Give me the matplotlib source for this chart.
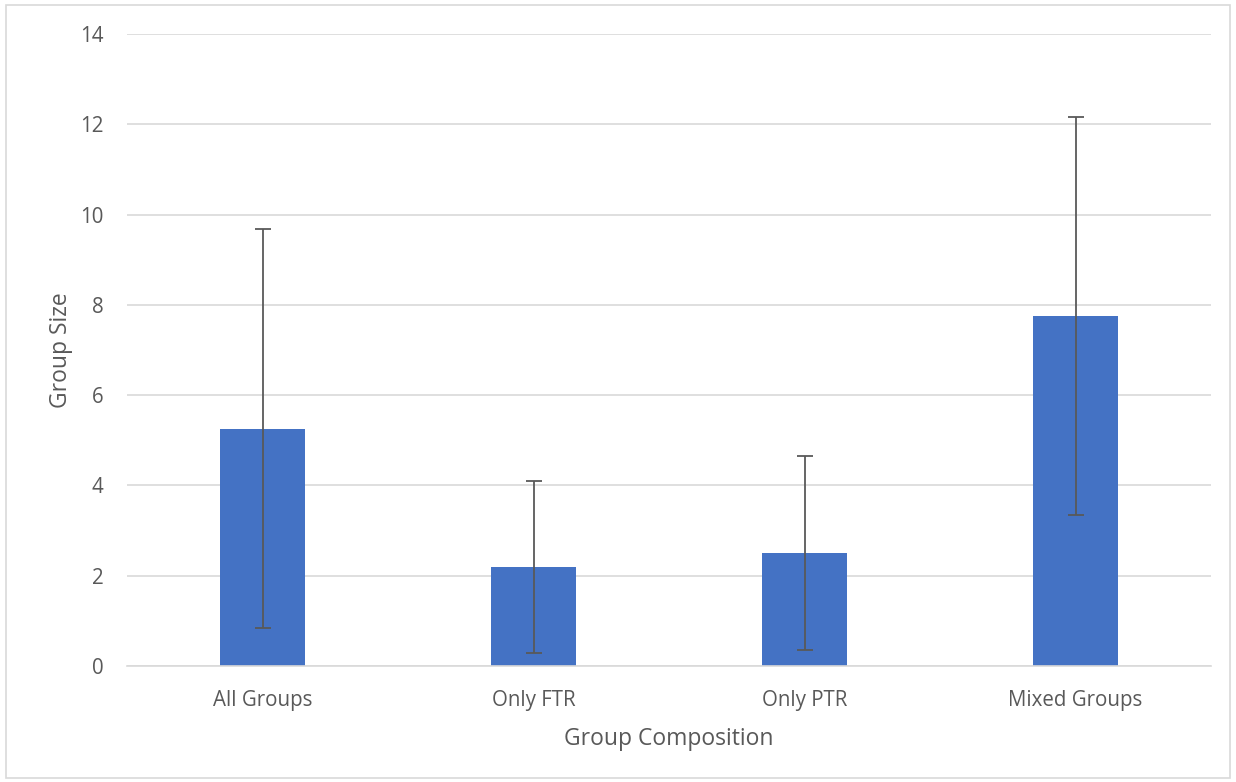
import numpy as np
import matplotlib.pyplot as plt
from matplotlib.patches import Rectangle

# Datos
categorias = ['All Groups', 'Only FTR', 'Only PTR', 'Mixed Groups']
medias     = [5.26, 2.19, 2.51, 7.76]
desv       = [4.42, 1.90, 2.15, 4.41]
yticks     = [0, 2, 4, 6, 8, 10, 12, 14]

azul  = '#4472C4'
gris  = '#595959'
texto = '#595959'

plt.rcParams['font.family'] = ['Open Sans', 'DejaVu Sans']

fig = plt.figure(figsize=(12.36, 7.82), dpi=100)
ax = fig.add_axes([127/1236, 1 - 666/782, (1211 - 127)/1236, (666 - 34)/782])

x = np.arange(len(categorias))
ax.bar(x, medias, width=0.314, color=azul, zorder=2)
ax.errorbar(x, medias, yerr=desv, fmt='none', ecolor=gris,
            elinewidth=1.3, capsize=6, capthick=1.3, zorder=3)

ax.set_xlim(-0.5, len(categorias) - 0.5)
ax.set_ylim(0, 14)
ax.set_yticks(yticks)
ax.set_xticks(x)
ax.set_xticklabels(categorias)
ax.tick_params(axis='both', length=0, labelsize=14.8, colors=texto)
ax.tick_params(axis='x', pad=17)
ax.tick_params(axis='y', pad=17)
ax.grid(axis='y', color='#D9D9D9', linewidth=1.2, zorder=0)
ax.set_axisbelow(True)
for s in ['top', 'right', 'left']:
    ax.spines[s].set_visible(False)
ax.spines['bottom'].set_color('#D9D9D9')
ax.spines['bottom'].set_linewidth(1.2)

ax.set_xlabel('Group Composition', fontsize=16.5, color=texto, labelpad=12)
ax.set_ylabel('Group Size', fontsize=16.5, color=texto, labelpad=5)

# Marco exterior del gráfico
fig.patches.append(Rectangle((6/1236, 4/782), 1 - 12/1236, 1 - 9/782,
                             transform=fig.transFigure, fill=False,
                             edgecolor='#D9D9D9', linewidth=1.2))

plt.savefig('out.png', dpi=100, facecolor='white')
